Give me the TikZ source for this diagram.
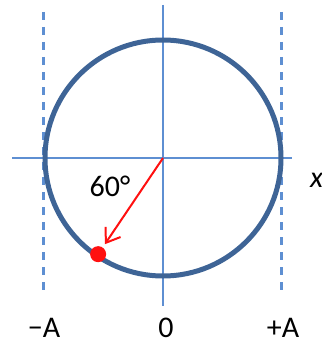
\documentclass[tikz,border=0pt]{standalone}
\usepackage{fontspec}
\setmainfont{Carlito}
\usetikzlibrary{arrows.meta,calc}
\definecolor{circblue}{HTML}{3E6496}
\definecolor{axblue}{HTML}{5E8FD2}
\definecolor{arrred}{HTML}{FF1010}
\begin{document}
\begin{tikzpicture}[x=1pt,y=1pt,
  axis/.style={draw=axblue,line width=1.5pt},
  guide/.style={draw=axblue,line width=2.2pt,dash pattern=on 8pt off 7pt},
  ring/.style={draw=circblue,line width=5pt},
  lbl/.style={font=\fontsize{30}{33}\selectfont,inner sep=0pt},
  radius arrow/.style={draw=arrred,line width=2pt,-{Straight Barb[length=13pt,width=18pt,line width=2pt]}},
  dot/.style={circle,fill=arrred,minimum size=16pt,inner sep=0pt}]
\useasboundingbox (0,0) rectangle (321,-345);
\clip (0,0) rectangle (321,-345);
\coordinate (C) at (163,-158);
\coordinate (vt) at (163,-5);
\coordinate (vb) at (163,-306);
\coordinate (hl) at (12,-158);
\coordinate (hr) at (292,-158);
\coordinate (lt) at (43.5,-12);
\coordinate (lb) at (43.5,-293);
\coordinate (rt) at (281.5,-12);
\coordinate (rb) at (281.5,-293);
\draw[axis] (vt) -- (vb);
\draw[axis] (hl) -- (hr);
\draw[guide] (lt) -- (lb);
\draw[guide] (rt) -- (rb);
\draw[ring] (C) circle (118);
\coordinate (tip) at ($(C)+(236:104)$);
\node[dot] (P) at ($(C)+(236:116)$) {};
\draw[radius arrow] (C) -- (tip);
\node[lbl] (ang) at (110,-186) {60°};
\node[lbl] (mA) at (44,-328) {−A};
\node[lbl] (zero) at (166,-328) {0};
\node[lbl] (pA) at (283,-328) {+A};
\node[lbl,anchor=west] (xl) at (310,-180) {\textit{x}};
\end{tikzpicture}
\end{document}
